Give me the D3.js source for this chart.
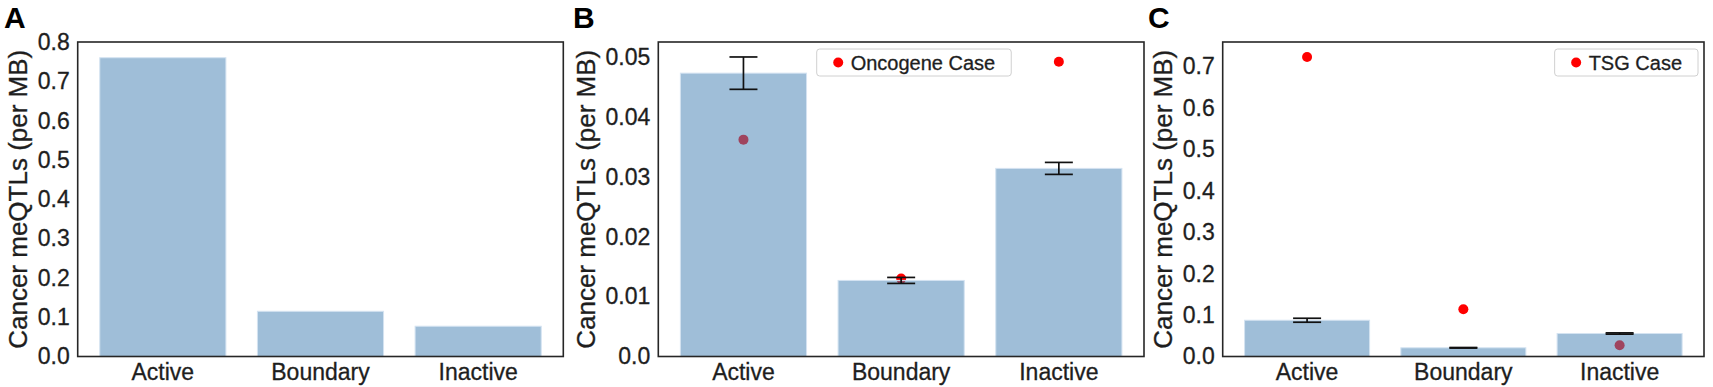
<!DOCTYPE html>
<html>
<head>
<meta charset="utf-8">
<script src="https://cdn.jsdelivr.net/npm/d3@7"></script>
<style>
  body { margin: 0; background: #fff; }
  text { font-family: "Liberation Sans", Arial, sans-serif; fill: #1e1e1e; stroke: #1e1e1e; stroke-width: 0.3px; }
</style>
</head>
<body>
<svg id="chart"></svg>
<script>
'use strict';

// values
var categories = ['Active', 'Boundary', 'Inactive'];

var overallRate = [0.760, 0.115, 0.077];

var oncoMean = [0.0473, 0.0127, 0.0314];
var oncoErr = [0.0027, 0.0005, 0.0010];
var oncoCase = [0.0362, 0.0130, 0.0492];

var tsgMean = [0.0875, 0.021, 0.0555];
var tsgErr = [0.0048, 0.0007, 0.0015];
var tsgCase = [0.723, 0.114, 0.027];

var ticksA = [0, 0.1, 0.2, 0.3, 0.4, 0.5, 0.6, 0.7, 0.8];
var ticksB = [0, 0.01, 0.02, 0.03, 0.04, 0.05];
var ticksC = [0, 0.1, 0.2, 0.3, 0.4, 0.5, 0.6, 0.7];

var canvasWidth = 1713;
var canvasHeight = 387;
var plotTop = 42;
var plotBottom = 356.5;
var tickFont = '23px';
var labelFont = '26px';
var legendFont = '20px';

var svg = d3.select('#chart')
    .attr('width', canvasWidth)
    .attr('height', canvasHeight);

var panels = [
    { letter: 'A', letterX: 4, left: 77.7, right: 563.3, yMax: 0.8, ticks: ticksA, fmt: d3.format('.1f'),
      means: overallRate, errs: null, cases: null, legend: null },
    { letter: 'B', letterX: 573, left: 658.3, right: 1144, yMax: 0.0525, ticks: ticksB,
      fmt: function(d) { return d === 0 ? '0.0' : d3.format('.2f')(d); },
      means: oncoMean, errs: oncoErr, cases: oncoCase, legend: { text: 'Oncogene Case', x: 816.7 } },
    { letter: 'C', letterX: 1148, left: 1222.7, right: 1704, yMax: 0.759, ticks: ticksC, fmt: d3.format('.1f'),
      means: tsgMean, errs: tsgErr, cases: tsgCase, legend: { text: 'TSG Case', right: 1698 } }
];

panels.forEach(function(p) {
    var g = svg.append('g');

    var xScale = d3.scaleBand()
        .domain(categories)
        .range([p.left, p.right])
        .paddingInner(0.2)
        .paddingOuter(0.14);
    var yScale = d3.scaleLinear()
        .domain([0, p.yMax])
        .range([plotBottom, plotTop]);

    // case dots go under the translucent bars
    if (p.cases) {
        g.selectAll('circle.case')
            .data(p.cases)
            .enter()
            .append('circle')
            .attr('class', 'case')
            .attr('cx', function(d, i) { return xScale(categories[i]) + xScale.bandwidth() / 2; })
            .attr('cy', function(d) { return yScale(d); })
            .attr('r', 5)
            .attr('fill', '#ff0000');
    }

    g.selectAll('rect.bar')
        .data(p.means)
        .enter()
        .append('rect')
        .attr('class', 'bar')
        .attr('x', function(d, i) { return xScale(categories[i]); })
        .attr('y', function(d) { return yScale(d); })
        .attr('width', xScale.bandwidth())
        .attr('height', function(d) { return plotBottom - yScale(d); })
        .attr('fill', 'steelblue')
        .attr('fill-opacity', 0.52)
        .attr('stroke', '#d4e3f1')
        .attr('stroke-width', 1);

    // error bars
    if (p.errs) {
        var capHalf = 14;
        p.means.forEach(function(m, i) {
            var cx = xScale(categories[i]) + xScale.bandwidth() / 2;
            var y1 = yScale(m + p.errs[i]);
            var y2 = yScale(m - p.errs[i]);
            g.append('line')
                .attr('x1', cx).attr('x2', cx)
                .attr('y1', y1).attr('y2', y2)
                .attr('stroke', '#111').attr('stroke-width', 1.7);
            [y1, y2].forEach(function(y) {
                g.append('line')
                    .attr('x1', cx - capHalf).attr('x2', cx + capHalf)
                    .attr('y1', y).attr('y2', y)
                    .attr('stroke', '#111').attr('stroke-width', 1.7);
            });
        });
    }

    // frame
    g.append('rect')
        .attr('x', p.left)
        .attr('y', plotTop)
        .attr('width', p.right - p.left)
        .attr('height', plotBottom - plotTop)
        .attr('fill', 'none')
        .attr('stroke', '#262626')
        .attr('stroke-width', 1.6);

    // y axis
    var yAxis = g.append('g')
        .attr('transform', 'translate(' + p.left + ',0)')
        .call(d3.axisLeft(yScale).tickValues(p.ticks).tickFormat(p.fmt).tickSize(0).tickPadding(8));
    yAxis.select('.domain').remove();
    yAxis.selectAll('text')
        .attr('font-size', tickFont)
        .attr('font-family', null)
        .attr('fill', null);

    // x axis
    var xAxis = g.append('g')
        .attr('transform', 'translate(0,' + plotBottom + ')')
        .call(d3.axisBottom(xScale).tickSize(0).tickPadding(7));
    xAxis.select('.domain').remove();
    xAxis.selectAll('text')
        .attr('font-size', tickFont)
        .attr('font-family', null)
        .attr('fill', null);

    // y axis title, placed left of the widest tick label
    var maxW = 0;
    yAxis.selectAll('text').each(function() {
        maxW = Math.max(maxW, this.getComputedTextLength());
    });
    var labelX = p.left - 8 - maxW - 20;
    g.append('text')
        .attr('transform', 'translate(' + labelX + ',' + ((plotTop + plotBottom) / 2) + ') rotate(-90)')
        .attr('text-anchor', 'middle')
        .attr('dy', '0.35em')
        .attr('font-size', labelFont)
        .text('Cancer meQTLs (per MB)');

    // panel letter
    g.append('text')
        .attr('x', p.letterX)
        .attr('y', 28)
        .attr('font-size', '30px')
        .attr('font-weight', 'bold')
        .style('fill', '#000')
        .style('stroke', 'none')
        .text(p.letter);

    // legend
    if (p.legend) {
        var lg = g.append('g');
        var box = lg.append('rect');
        var label = lg.append('text')
            .attr('font-size', legendFont)
            .attr('dy', '0.35em')
            .text(p.legend.text);
        var tw = label.node().getComputedTextLength();
        var bw = tw + 50;
        var bx = p.legend.x !== undefined ? p.legend.x : p.legend.right - bw;
        var by = 49;
        var bh = 27;
        box.attr('x', bx).attr('y', by)
            .attr('width', bw).attr('height', bh)
            .attr('rx', 3)
            .attr('fill', '#fff')
            .attr('stroke', '#d0d0d0')
            .attr('stroke-width', 1);
        lg.append('circle')
            .attr('cx', bx + 21.5)
            .attr('cy', by + bh / 2)
            .attr('r', 5)
            .attr('fill', '#ff0000');
        label.attr('x', bx + 34).attr('y', by + bh / 2);
    }
});
</script>
</body>
</html>
